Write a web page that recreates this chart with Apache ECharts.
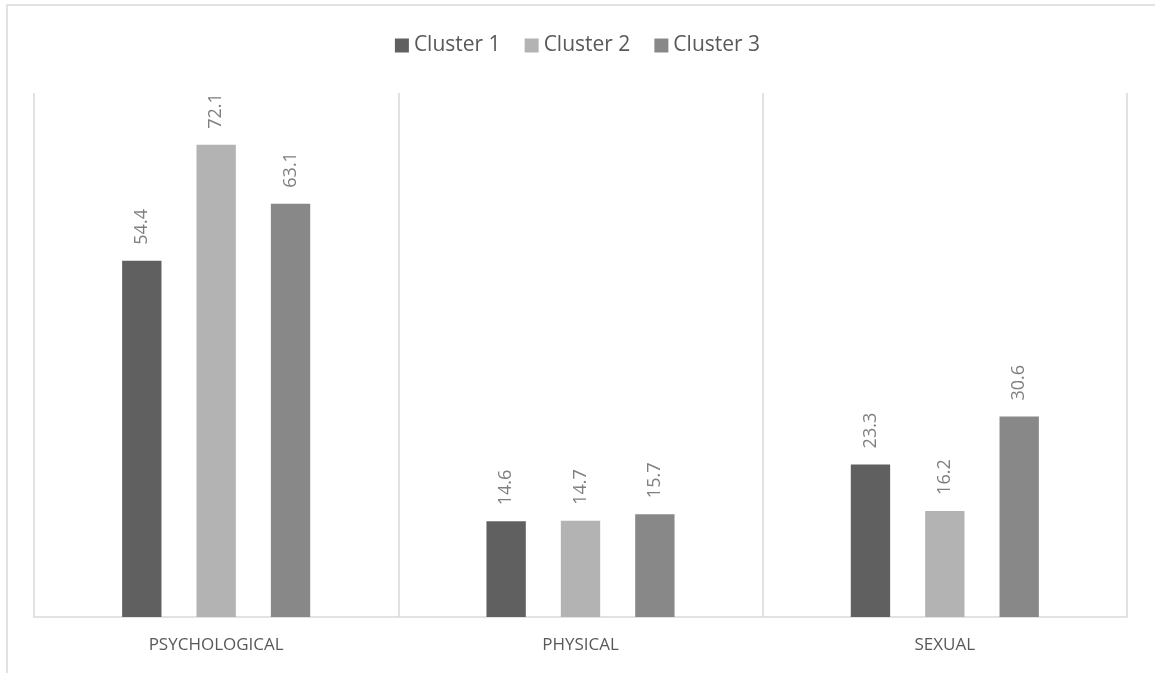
<!DOCTYPE html>
<html>
<head>
<meta charset="utf-8">
<script src="https://cdn.jsdelivr.net/npm/echarts@6/dist/echarts.min.js"></script>
<style>html,body{margin:0;padding:0;background:#fff}#c{width:1155px;height:673px}</style>
</head>
<body>
<div id="c"></div>
<script>
const categories = ['PSYCHOLOGICAL', 'PHYSICAL', 'SEXUAL'];
const seriesNames = ['Cluster 1', 'Cluster 2', 'Cluster 3'];
const cluster1 = [54.4, 14.6, 23.3];
const cluster2 = [72.1, 14.7, 16.2];
const cluster3 = [63.1, 15.7, 30.6];
const colors = ['#606060', '#b3b3b3', '#888888'];

const chart = echarts.init(document.getElementById('c'), null, {renderer: 'canvas'});
const font = '"Open Sans", "DejaVu Sans", sans-serif';
const data = [cluster1, cluster2, cluster3];
chart.setOption({
  animation: false,
  backgroundColor: '#ffffff',
  graphic: [{
    type: 'rect', left: 4.5, top: 2.5, silent: true,
    shape: {width: 1300, height: 800},
    style: {fill: 'none', stroke: '#d9d9d9', lineWidth: 1.5}
  }],
  legend: {
    top: 30, left: 'center',
    itemWidth: 14, itemHeight: 14, itemGap: 24,
    icon: 'rect',
    textStyle: {fontFamily: font, fontSize: 21, color: '#595959'},
    data: seriesNames
  },
  grid: {left: 34, right: 28, top: 93, bottom: 56, containLabel: false},
  xAxis: {
    type: 'category', data: categories,
    axisLine: {lineStyle: {color: '#d9d9d9', width: 1.5}},
    axisTick: {show: false},
    splitLine: {show: true, lineStyle: {color: '#d9d9d9', width: 1.5}},
    axisLabel: {margin: 20, fontFamily: font, fontSize: 17, color: '#595959'}
  },
  yAxis: {
    type: 'value', min: 0, max: 80,
    show: false, splitLine: {show: false}
  },
  series: seriesNames.map((n, i) => ({
    name: n, type: 'bar', data: data[i],
    barWidth: '10.8%', barGap: '89%',
    itemStyle: {color: colors[i]},
    label: {
      show: true, position: 'top', rotate: 90, distance: 16,
      align: 'left', verticalAlign: 'middle',
      fontFamily: font, fontSize: 18, color: '#7f7f7f',
      formatter: p => p.value.toFixed(1)
    }
  }))
});
</script>
</body>
</html>
